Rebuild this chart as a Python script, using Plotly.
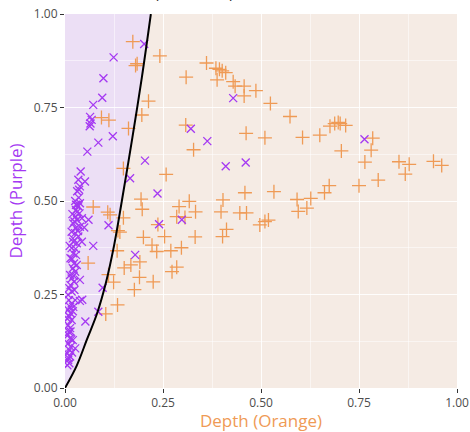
import plotly.graph_objects as go

# ---- data ----
orange_x = [0.173, 0.242, 0.184, 0.180, 0.309, 0.213, 0.196, 0.093, 0.112, 0.162,
            0.308, 0.328, 0.258, 0.149, 0.361, 0.385, 0.394, 0.401, 0.410, 0.388,
            0.429, 0.434, 0.457, 0.457, 0.487, 0.524, 0.574, 0.462, 0.510, 0.606,
            0.650, 0.676, 0.688, 0.697, 0.702, 0.716, 0.785, 0.781, 0.705, 0.765,
            0.852, 0.878, 0.868, 0.940, 0.961, 0.799, 0.750, 0.674, 0.662, 0.533,
            0.459, 0.592, 0.627, 0.617, 0.595, 0.446, 0.463, 0.497, 0.510, 0.519,
            0.412, 0.402, 0.398, 0.403, 0.333, 0.332, 0.317, 0.291, 0.285, 0.306,
            0.237, 0.197, 0.194, 0.072, 0.109, 0.115, 0.149, 0.135, 0.140, 0.200,
            0.254, 0.222, 0.234, 0.270, 0.297, 0.133, 0.059, 0.111, 0.124, 0.151,
            0.168, 0.191, 0.190, 0.177, 0.225, 0.273, 0.285, 0.134, 0.104]
orange_y = [0.926, 0.888, 0.867, 0.862, 0.831, 0.767, 0.730, 0.723, 0.716, 0.694,
            0.703, 0.637, 0.571, 0.587, 0.869, 0.855, 0.852, 0.848, 0.843, 0.824,
            0.819, 0.807, 0.807, 0.781, 0.795, 0.761, 0.726, 0.681, 0.669, 0.670,
            0.676, 0.700, 0.707, 0.710, 0.707, 0.702, 0.668, 0.636, 0.634, 0.604,
            0.605, 0.598, 0.572, 0.606, 0.595, 0.556, 0.541, 0.541, 0.522, 0.525,
            0.522, 0.504, 0.507, 0.481, 0.472, 0.468, 0.468, 0.436, 0.445, 0.449,
            0.424, 0.405, 0.471, 0.503, 0.471, 0.404, 0.499, 0.485, 0.458, 0.456,
            0.437, 0.478, 0.505, 0.484, 0.470, 0.463, 0.455, 0.421, 0.417, 0.403,
            0.405, 0.382, 0.365, 0.367, 0.375, 0.367, 0.334, 0.303, 0.283, 0.321,
            0.329, 0.337, 0.296, 0.263, 0.284, 0.311, 0.323, 0.222, 0.198]

purple_x = [0.202, 0.124, 0.098, 0.095, 0.072, 0.064, 0.068, 0.065, 0.063, 0.122,
            0.085, 0.057, 0.204, 0.166, 0.236, 0.321, 0.363, 0.410, 0.461, 0.429,
            0.764, 0.298, 0.240, 0.111, 0.179, 0.096, 0.085, 0.052, 0.072, 0.060,
            0.049, 0.044, 0.038, 0.038,
            0.040, 0.034, 0.051, 0.038, 0.031, 0.036, 0.028, 0.034, 0.031,
            0.030, 0.038, 0.028, 0.037, 0.026, 0.031, 0.043, 0.021, 0.028, 0.038,
            0.017, 0.026, 0.020, 0.034, 0.043, 0.021, 0.030, 0.017, 0.021, 0.028,
            0.014, 0.023, 0.030, 0.020, 0.026, 0.013, 0.017, 0.023, 0.014, 0.011,
            0.017, 0.008, 0.026, 0.017, 0.013, 0.021, 0.008, 0.014, 0.011, 0.017,
            0.008, 0.013, 0.014, 0.008, 0.013, 0.020, 0.008, 0.014, 0.011, 0.006,
            0.013, 0.008, 0.011, 0.006, 0.026,
            0.022, 0.010, 0.024, 0.018, 0.012, 0.027, 0.016, 0.010, 0.020, 0.006,
            0.018, 0.009, 0.033, 0.024, 0.019, 0.035, 0.026]
purple_y = [0.920, 0.884, 0.828, 0.776, 0.757, 0.725, 0.717, 0.707, 0.700, 0.673,
            0.656, 0.632, 0.608, 0.561, 0.520, 0.693, 0.660, 0.593, 0.603, 0.775,
            0.665, 0.450, 0.438, 0.435, 0.356, 0.268, 0.204, 0.178, 0.380, 0.450,
            0.429, 0.236, 0.233, 0.289,
            0.579, 0.557, 0.552, 0.539, 0.526, 0.530, 0.490, 0.486, 0.471,
            0.489, 0.494, 0.476, 0.467, 0.458, 0.449, 0.454, 0.440, 0.427, 0.431,
            0.418, 0.414, 0.400, 0.405, 0.391, 0.391, 0.387, 0.374, 0.360, 0.356,
            0.347, 0.333, 0.329, 0.320, 0.311, 0.302, 0.293, 0.284, 0.275, 0.267,
            0.258, 0.249, 0.235, 0.226, 0.217, 0.217, 0.209, 0.200, 0.191, 0.182,
            0.168, 0.160, 0.151, 0.142, 0.133, 0.128, 0.119, 0.110, 0.102, 0.093,
            0.084, 0.075, 0.066, 0.061, 0.106,
            0.300, 0.235, 0.262, 0.345, 0.380, 0.372, 0.130, 0.150, 0.205, 0.185,
            0.095, 0.080, 0.420, 0.445, 0.465, 0.509, 0.500]

# boundary curve
curve_x = [0.0, 0.030, 0.056, 0.082, 0.104, 0.125, 0.145, 0.172, 0.196, 0.219]
curve_y = [0.0, 0.06, 0.13, 0.20, 0.28, 0.38, 0.50, 0.67, 0.83, 1.00]

tick_vals = [0, 0.25, 0.5, 0.75, 1.0]
tick_text = ["0.00", "0.25", "0.50", "0.75", "1.00"]

PURPLE = "#a438f2"
ORANGE = "#ef9a55"
FONT = "Open Sans"

fig = go.Figure()

# purple region to the left of the curve, drawn as a shape below the grid
path = "M 0,0 " + " ".join(f"L {x},{y}" for x, y in zip(curve_x, curve_y)) + " L 0,1 Z"
fig.add_shape(type="path", path=path, xref="x", yref="y",
              fillcolor="#ecdff5", line=dict(width=0), layer="below")

fig.add_trace(go.Scatter(x=orange_x, y=orange_y, mode="markers",
                         marker=dict(symbol="cross-thin", size=10,
                                     line=dict(color=ORANGE, width=1.3)),
                         showlegend=False))
fig.add_trace(go.Scatter(x=purple_x, y=purple_y, mode="markers",
                         marker=dict(symbol="x-thin", size=8,
                                     line=dict(color=PURPLE, width=1.3)),
                         showlegend=False))
fig.add_trace(go.Scatter(x=curve_x, y=curve_y, mode="lines",
                         line=dict(color="black", width=2, shape="spline"),
                         showlegend=False, cliponaxis=True))

axis_common = dict(range=[0, 1], tickvals=tick_vals, ticktext=tick_text,
                   ticks="outside", ticklen=4, tickwidth=1.2, tickcolor="#333333",
                   showgrid=True, gridcolor="rgba(255,255,255,0.75)", gridwidth=1,
                   minor=dict(dtick=0.125, tick0=0, showgrid=True,
                              gridcolor="rgba(255,255,255,0.5)", gridwidth=0.8),
                   zeroline=False, showline=False, automargin=False,
                   tickfont=dict(family=FONT, size=12, color="#4d4d4d"))

fig.update_layout(
    width=470, height=432,
    margin=dict(l=65, r=13, t=14, b=44),
    paper_bgcolor="white", plot_bgcolor="#f5ebe4",
    xaxis=dict(**axis_common,
               title=dict(text="Depth (Orange)", standoff=8,
                          font=dict(family=FONT, size=17, color=ORANGE))),
    yaxis=dict(**axis_common,
               title=dict(text="Depth (Purple)", standoff=6,
                          font=dict(family=FONT, size=17, color=PURPLE))),
    annotations=[dict(text="Model Class (Threshold)", xref="paper", yref="paper",
                      x=0.0, y=1.027, xanchor="left", yanchor="bottom",
                      showarrow=False,
                      font=dict(family=FONT, size=15, color="#222222"))],
)

fig.write_html("out.html")
